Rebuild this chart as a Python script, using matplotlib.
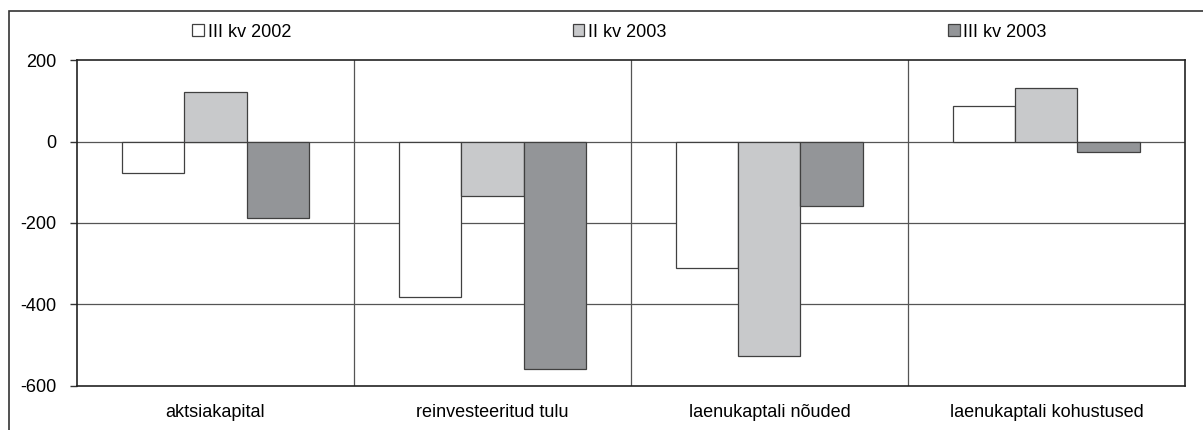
import matplotlib.pyplot as plt
import numpy as np
from matplotlib.patches import Rectangle

plt.rcParams['font.family'] = ['Liberation Sans', 'DejaVu Sans']

categories = ['aktsiakapital', 'reinvesteeritud tulu', 'laenukaptali nõuded', 'laenukaptali kohustused']
series_names = ['III kv 2002', 'II kv 2003', 'III kv 2003']
q3_2002 = [-78, -383, -310, 88]
q2_2003 = [122, -133, -526, 132]
q3_2003 = [-187, -559, -158, -25]
yticks = [200, 0, -200, -400, -600]

colors = ['#ffffff', '#c8c9cb', '#939598']

fig = plt.figure(figsize=(12.03, 4.30), dpi=100)
# outer frame, cut off at right and bottom as in the source
fig.patches.append(Rectangle((0.0075, -0.2), 1.2, 0.974 + 0.2, transform=fig.transFigure,
                             fill=False, edgecolor='#333333', linewidth=1.2))

ax = fig.add_axes([0.064, 0.103, 0.921, 0.757])
x = np.arange(len(categories))
w = 0.224
for i, (vals, name) in enumerate(zip([q3_2002, q2_2003, q3_2003], series_names)):
    ax.bar(x + (i - 1) * w, vals, w, color=colors[i], edgecolor='#404040',
           linewidth=0.9, label=name, zorder=3)

ax.set_xlim(-0.5, len(categories) - 0.5)
ax.set_ylim(-600, 200)
ax.set_yticks(yticks)
ax.set_yticklabels([str(v) for v in yticks], fontsize=13)
ax.set_xticks(x)
ax.set_xticklabels(categories, fontsize=13)
ax.tick_params(axis='x', length=0, pad=13)
ax.tick_params(axis='y', length=5, width=1, color='#333333', pad=10)

for yv in yticks[1:-1]:
    ax.axhline(yv, color='#555555', linewidth=0.9, zorder=1)
for xv in x[1:] - 0.5:
    ax.axvline(xv, color='#555555', linewidth=0.9, zorder=1)

for s in ax.spines.values():
    s.set_color('#222222')
    s.set_linewidth(1.2)

fig.legend(loc='center', bbox_to_anchor=(0.515, 0.925), ncol=3, frameon=False, fontsize=13,
           handlelength=0.65, handleheight=0.65, handletextpad=0.2, columnspacing=15.6)

fig.savefig('out.png', dpi=100)
